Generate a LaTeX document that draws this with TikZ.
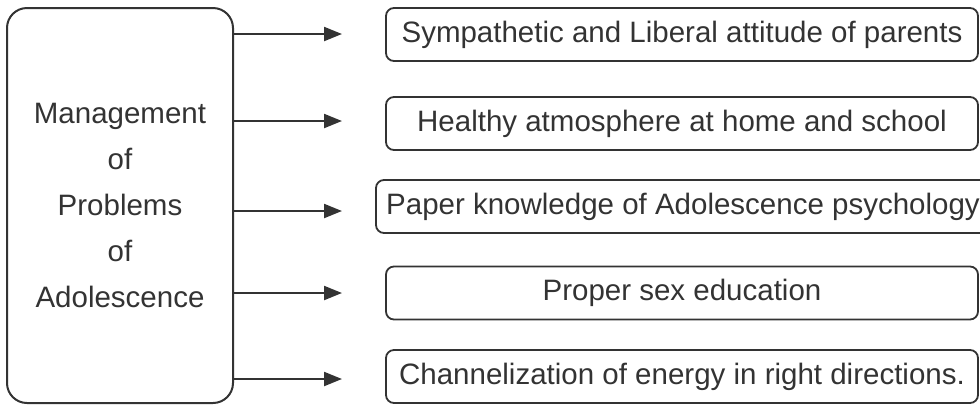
\documentclass[tikz,border=0pt]{standalone}
\usepackage{fontspec}
\setmainfont{Liberation Sans}
\usetikzlibrary{arrows.meta}
\definecolor{ink}{HTML}{333333}
\begin{document}
\begin{tikzpicture}[x=0.5pt,y=-0.5pt,
  txt/.style={font=\fontsize{14.75}{23}\selectfont, text=ink},
  mainbox/.style={txt, draw=ink, line width=1pt, rounded corners=10pt, inner sep=0pt,
    minimum width=113pt, minimum height=197.5pt, align=center},
  itembox/.style={txt, draw=ink, line width=0.9pt, rounded corners=4pt, inner sep=0pt,
    minimum width=296pt, minimum height=26.5pt},
  arr/.style={draw=ink, line width=1.1pt, -{Triangle[length=9pt,width=7pt]}}]
\useasboundingbox (0,0) rectangle (980,404);
\clip (0,0) rectangle (980,404);
\node[mainbox] (L) at (120,205.5) {Management\\of\\Problems\\of\\Adolescence};
\node[itembox] (b1) at (682,34.5) {Sympathetic and Liberal attitude of parents};
\node[itembox] (b2) at (682,123.5) {Healthy atmosphere at home and school};
\node[itembox, minimum width=307pt] (b3) at (683,206.5) {Paper knowledge of Adolescence psychology};
\node[itembox] (b4) at (682,293) {Proper sex education};
\node[itembox] (b5) at (682,376.5) {Channelization of energy in right directions.};
\coordinate (a1) at (342,34);
\coordinate (a2) at (342,121);
\coordinate (a3) at (342,211);
\coordinate (a4) at (342,293);
\coordinate (a5) at (342,379);
\foreach \i in {1,...,5} {
  \draw[arr] (a\i -| L.east) -- (a\i);
}
\end{tikzpicture}
\end{document}
